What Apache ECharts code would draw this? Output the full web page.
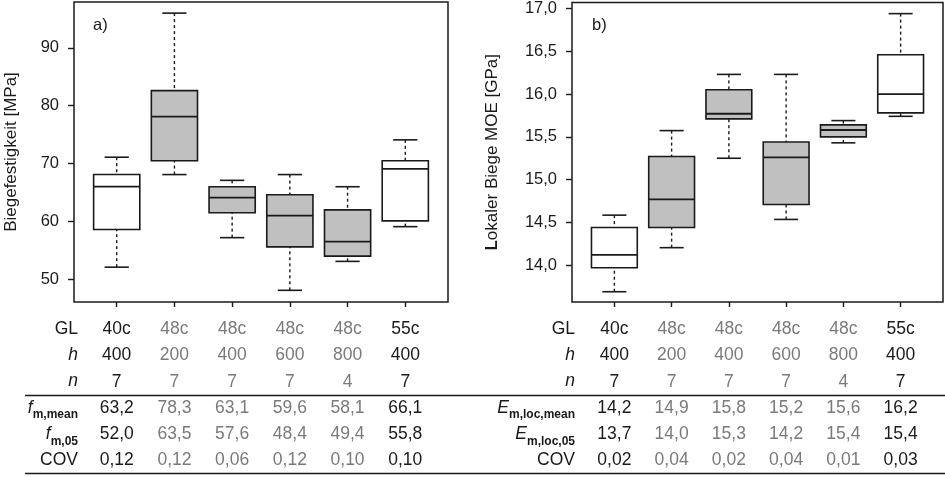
<!DOCTYPE html>
<html>
<head>
<meta charset="utf-8">
<script src="https://cdn.jsdelivr.net/npm/echarts@6/dist/echarts.min.js"></script>
<style>
	html, body {margin: 0; padding: 0; background: #fff;}
	#main {width: 945px; height: 477px;}
</style>
</head>
<body>
<div id="main"></div>
<script>
"use strict";

// groups (shared by both panels)
var gl = ['40c', '48c', '48c', '48c', '48c', '55c'];
var height = [400, 200, 400, 600, 800, 400];
var count = [7, 7, 7, 7, 4, 7];

// panel a) bending strength: [low, q1, median, q3, high]
var boxStrength = [
	[52.1, 58.6, 66.0, 68.1, 71.1],
	[68.1, 70.5, 78.1, 82.6, 96.0],
	[57.2, 61.5, 64.1, 66.0, 67.1],
	[48.1, 55.6, 61.0, 64.6, 68.1],
	[53.1, 54.0, 56.5, 62.0, 66.0],
	[59.1, 60.1, 69.1, 70.5, 74.1]
];
var fMean = [63.2, 78.3, 63.1, 59.6, 58.1, 66.1];
var f05 = [52.0, 63.5, 57.6, 48.4, 49.4, 55.8];
var covA = [0.12, 0.12, 0.06, 0.12, 0.10, 0.10];
var ticksA = [50, 60, 70, 80, 90];

// panel b) local MOE: [low, q1, median, q3, high]
var boxMoe = [
	[13.69, 13.97, 14.12, 14.44, 14.585],
	[14.205, 14.44, 14.77, 15.27, 15.573],
	[15.25, 15.71, 15.77, 16.05, 16.23],
	[14.535, 14.71, 15.26, 15.44, 16.23],
	[15.43, 15.50, 15.58, 15.64, 15.69],
	[15.74, 15.78, 16.0, 16.46, 16.94]
];
var eMean = [14.2, 14.9, 15.8, 15.2, 15.6, 16.2];
var e05 = [13.7, 14.0, 15.3, 14.2, 15.4, 15.4];
var covB = [0.02, 0.04, 0.02, 0.04, 0.01, 0.03];
var ticksB = [14.0, 14.5, 15.0, 15.5, 16.0, 16.5, 17.0];

var positions = [1, 2, 3, 4, 5, 6];

var FONT = 'Liberation Sans, Arial, sans-serif';
var INK = '#1a1a1a';
var GREY = '#7a7a7a';
var LH = 26.3;

function comma(v, d) {
	return v.toFixed(d).replace('.', ',');
}

function boxData(boxes) {
	var d = [];
	for (var i = 0; i < boxes.length; i++) {
		d.push([positions[i]].concat(boxes[i]).concat([gl[i] === '48c' ? 1 : 0]));
	}
	return d;
}

function renderBox(params, api) {
	var x = api.value(0);
	var lo = api.coord([x, api.value(1)]);
	var q1 = api.coord([x, api.value(2)]);
	var md = api.coord([x, api.value(3)]);
	var q3 = api.coord([x, api.value(4)]);
	var hi = api.coord([x, api.value(5)]);
	var w = api.size([0.8, 0])[0];
	var cap = api.size([0.42, 0])[0];
	var solid = {stroke: INK, lineWidth: 1.6};
	var dash = {stroke: INK, lineWidth: 1.4, lineDash: [3, 3]};
	return {
		type: 'group',
		children: [
			{type: 'line', shape: {x1: hi[0], y1: hi[1], x2: q3[0], y2: q3[1]}, style: dash},
			{type: 'line', shape: {x1: lo[0], y1: lo[1], x2: q1[0], y2: q1[1]}, style: dash},
			{type: 'line', shape: {x1: hi[0] - cap / 2, y1: hi[1], x2: hi[0] + cap / 2, y2: hi[1]}, style: solid},
			{type: 'line', shape: {x1: lo[0] - cap / 2, y1: lo[1], x2: lo[0] + cap / 2, y2: lo[1]}, style: solid},
			{
				type: 'rect',
				shape: {x: q3[0] - w / 2, y: q3[1], width: w, height: q1[1] - q3[1]},
				style: {fill: api.value(6) ? '#c0c0c0' : '#ffffff', stroke: INK, lineWidth: 1.6}
			},
			{type: 'line', shape: {x1: md[0] - w / 2, y1: md[1], x2: md[0] + w / 2, y2: md[1]}, style: {stroke: INK, lineWidth: 1.8}}
		]
	};
}

var cellRich = {
	k: {color: INK, fontSize: 17.5, lineHeight: LH, align: 'center', fontFamily: FONT},
	g: {color: GREY, fontSize: 17.5, lineHeight: LH, align: 'center', fontFamily: FONT}
};

function tableLabel(rows) {
	return function (value) {
		var i = Math.round(value) - 1;
		var s = (gl[i] === '48c') ? 'g' : 'k';
		var out = [];
		for (var r = 0; r < rows.length; r++) {
			out.push('{' + s + '|' + rows[r][i] + '}');
		}
		return out.join('\n');
	};
}

function fmt(arr, d) {
	return arr.map(function (v) { return comma(v, d); });
}

var rowsA = [gl, height, count, fmt(fMean, 1), fmt(f05, 1), fmt(covA, 2)];
var rowsB = [gl, height, count, fmt(eMean, 1), fmt(e05, 1), fmt(covB, 2)];

var rowRich = {
	r: {fontSize: 17.5, lineHeight: LH, align: 'right', fill: INK, fontFamily: FONT},
	i: {fontSize: 17.5, lineHeight: LH, align: 'right', fill: INK, fontStyle: 'italic', fontFamily: FONT},
	s: {fontSize: 12, lineHeight: 12, align: 'right', fill: INK, fontWeight: 'bold', verticalAlign: 'bottom', fontFamily: FONT}
};

function xAxis(grid, rows) {
	return {
		type: 'value',
		gridIndex: grid,
		min: 0.26,
		max: 6.74,
		axisLine: {show: false},
		splitLine: {show: false},
		axisTick: {show: true, length: 5, customValues: positions, lineStyle: {color: INK, width: 1.4}},
		axisLabel: {
			show: true,
			customValues: positions,
			margin: 14,
			formatter: tableLabel(rows),
			rich: cellRich
		}
	};
}

function yAxis(grid, min, max, ticks, name, gap, digits) {
	return {
		type: 'value',
		gridIndex: grid,
		min: min,
		max: max,
		name: name,
		nameLocation: 'middle',
		nameRotate: 90,
		nameGap: gap,
		nameTextStyle: {
			fontSize: 17, color: INK, fontFamily: FONT,
			rich: {b: {fontSize: 17, fontWeight: 'bold', color: INK, fontFamily: FONT}}
		},
		axisLine: {show: false},
		splitLine: {show: false},
		axisTick: {show: true, length: 6, customValues: ticks, lineStyle: {color: INK, width: 1.4}},
		axisLabel: {
			customValues: ticks,
			margin: 15,
			fontSize: 16.5,
			color: INK,
			fontFamily: FONT,
			formatter: function (v) { return comma(v, digits); }
		}
	};
}

var chart = echarts.init(document.getElementById('main'));

chart.setOption({
	animation: false,
	textStyle: {fontFamily: FONT},
	grid: [
		{left: 74, top: 2, width: 374, height: 300, show: true, borderColor: INK, borderWidth: 1.5},
		{left: 572, top: 2, width: 371, height: 300, show: true, borderColor: INK, borderWidth: 1.5}
	],
	xAxis: [xAxis(0, rowsA), xAxis(1, rowsB)],
	yAxis: [
		yAxis(0, 46.08, 97.92, ticksA, 'Biegefestigkeit [MPa]', 54, 0),
		yAxis(1, 13.57, 17.07, ticksB, '{b|L}okaler Biege MOE [GPa]', 71, 1)
	],
	series: [
		{
			type: 'custom',
			xAxisIndex: 0,
			yAxisIndex: 0,
			renderItem: renderBox,
			encode: {x: 0, y: [1, 2, 3, 4, 5]},
			data: boxData(boxStrength)
		},
		{
			type: 'custom',
			xAxisIndex: 1,
			yAxisIndex: 1,
			renderItem: renderBox,
			encode: {x: 0, y: [1, 2, 3, 4, 5]},
			data: boxData(boxMoe)
		}
	],
	graphic: [
		{type: 'text', x: 93, y: 25, style: {text: 'a)', fontSize: 16.5, fill: INK, fontFamily: FONT, verticalAlign: 'middle'}},
		{type: 'text', x: 592, y: 25, style: {text: 'b)', fontSize: 16.5, fill: INK, fontFamily: FONT, verticalAlign: 'middle'}},
		{
			type: 'text', x: 78, y: 315.8,
			style: {
				text: '{r|GL}\n{i|h}\n{i|n}\n{i|f}{s|m,mean}\n{i|f}{s|m,05}\n{r|COV}',
				rich: rowRich, align: 'right', verticalAlign: 'top', fill: INK
			}
		},
		{
			type: 'text', x: 575, y: 315.8,
			style: {
				text: '{r|GL}\n{i|h}\n{i|n}\n{i|E}{s|m,loc,mean}\n{i|E}{s|m,loc,05}\n{r|COV}',
				rich: rowRich, align: 'right', verticalAlign: 'top', fill: INK
			}
		},
		{type: 'line', shape: {x1: 25, y1: 395.5, x2: 945, y2: 395.5}, style: {stroke: INK, lineWidth: 1.5}},
		{type: 'line', shape: {x1: 25, y1: 473.5, x2: 945, y2: 473.5}, style: {stroke: INK, lineWidth: 1.5}}
	]
});
</script>
</body>
</html>
